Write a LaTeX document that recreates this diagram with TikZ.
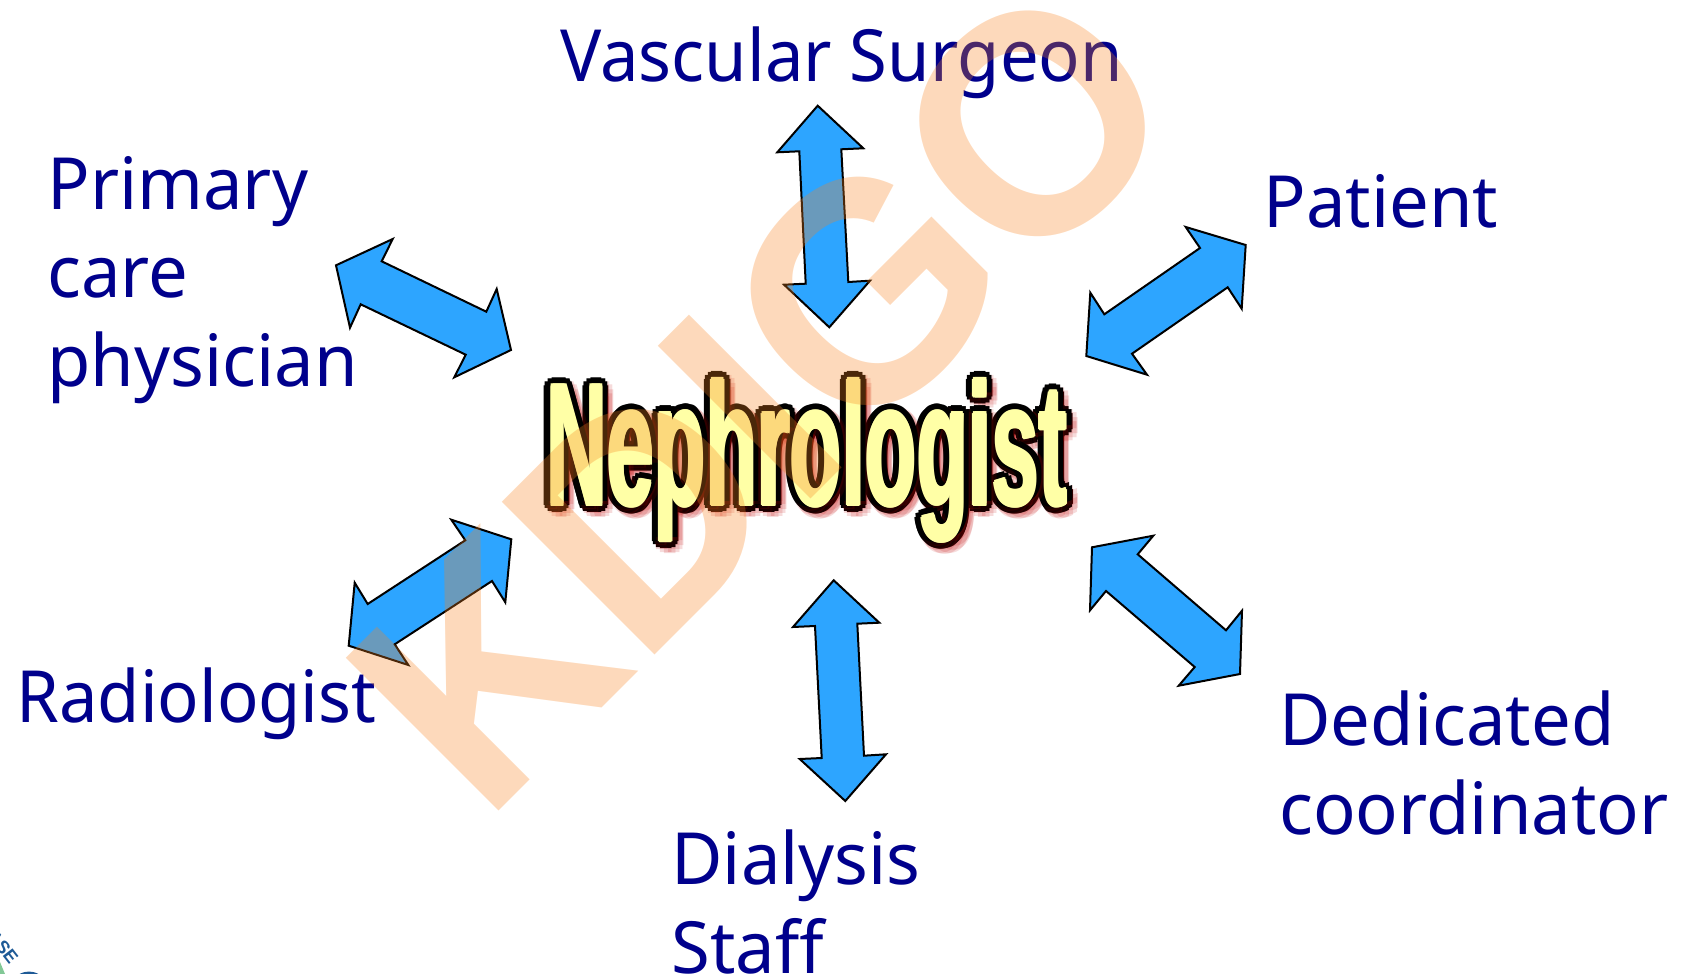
\documentclass[tikz,border=0pt]{standalone}
\usepackage{fontspec}
\setmainfont{Noto Sans}
\newfontfamily\labelfont{Noto Sans}[FakeStretch=0.98]
\newfontfamily\narrowfont{Noto Sans}[FakeStretch=0.955]
\newfontfamily\markfont{Liberation Sans Bold}[FakeStretch=0.975]
\newfontfamily\nephrofont{Liberation Sans Bold}[FakeStretch=0.485]
\newfontfamily\logofont{Liberation Sans Bold}
\definecolor{labelblue}{RGB}{0,0,140}
\definecolor{arrowblue}{RGB}{45,165,255}
\definecolor{markorange}{RGB}{248,130,30}
\definecolor{nephroyellow}{RGB}{255,255,166}
\definecolor{logoblue}{RGB}{30,90,150}
\definecolor{logogreen}{RGB}{130,200,150}
\tikzset{
    label text/.style={text=labelblue, anchor=base west, inner sep=0pt, align=left,
        font=\labelfont\fontsize{36}{44.25}\selectfont},
    narrow label/.style={label text, font=\narrowfont\fontsize{36}{44.25}\selectfont},
    both arrow/.style={draw=black, line width=1pt, fill=arrowblue, line join=miter},
    nephro text/.style={inner sep=0pt, anchor=base west, font=\nephrofont\fontsize{87}{87}\selectfont}
}
\begin{document}
\begin{tikzpicture}[x=0.5pt, y=-0.5pt]
    \useasboundingbox (0,0) rectangle (1681,974);

    \node[text=logoblue, font=\logofont\fontsize{9}{9}\selectfont, rotate=-52] (logo) at (3,947) {ASE};
    \fill[logogreen] (0,962) -- (5,974) -- (0,974) -- cycle;
    \fill[logoblue] (18,975) .. controls (24,970.5) and (34,970.5) .. (40,975) -- cycle;

    \node[narrow label] (vascular) at (560,82) {Vascular Surgeon};
    \node[label text] (primary) at (47,386) {Primary\\care\\physician};
    \node[label text] (patient) at (1263,227) {Patient};
    \node[narrow label] (radiologist) at (16,722) {Radiologist};
    \node[label text] (dedicated) at (1279,834) {Dedicated\\coordinator};
    \node[label text] (dialysis) at (671,973) {Dialysis\\Staff};

    \draw[both arrow] (336,265.3) -- (392.7,239) -- (381.7,261.3) -- (486.3,311.7) -- (496.7,289)
        -- (511,350) -- (454.3,377.3) -- (465.7,354.7) -- (360.7,304.3) -- (350,327.7) -- cycle;
    \draw[both arrow] (817.7,105.7) -- (863.3,148.3) -- (841.3,149.3) -- (848.3,282) -- (870,280.7)
        -- (829.3,327.3) -- (784,284.7) -- (805.7,283.7) -- (799.3,151.3) -- (777.3,152.3) -- cycle;
    \draw[both arrow] (1245.7,245) -- (1241.7,308.7) -- (1227.7,287.3) -- (1132,353.7) -- (1147,374.7)
        -- (1086.3,356) -- (1090.3,292.7) -- (1104.3,314.3) -- (1200,248) -- (1185.7,227) -- cycle;
    \draw[both arrow] (1092,547.3) -- (1153.3,535.7) -- (1137.7,554.3) -- (1226,630.3) -- (1242,610.7)
        -- (1240,674) -- (1178.7,685.7) -- (1194.7,667) -- (1106,591) -- (1090,610.3) -- cycle;
    \draw[both arrow] (833.7,580.3) -- (879.3,622.7) -- (857.3,623.7) -- (864,755.7) -- (886,754.3)
        -- (845.3,801) -- (799.7,759) -- (821.7,758) -- (815,626) -- (793,627) -- cycle;
    \draw[both arrow] (511.3,539.3) -- (505.3,602.3) -- (492,581) -- (394.7,644.3) -- (408.3,665)
        -- (348.7,645.7) -- (354.7,582.7) -- (367.7,604) -- (465.3,540.3) -- (451.3,519.7) -- cycle;

    \foreach \a in {0,30,...,330}
        {
            \node[nephro text, text=red!75!black, opacity=0.14] (glow\a) at ({546+4+8.5*cos(\a)},{505+4+8.5*sin(\a)}) {Nephrologist};
            \node[nephro text, text=black] (outline\a) at ({546+7.5*cos(\a)},{505+7.5*sin(\a)}) {Nephrologist};
        }
    \foreach \a in {0,60,...,300}
        {
            \node[nephro text, text=nephroyellow] (fill\a) at ({546+1.4*cos(\a)},{505+1.4*sin(\a)}) {Nephrologist};
        }
    \node[nephro text, text=nephroyellow] (nephro) at (546,505) {Nephrologist};

    \node[anchor=base west, inner sep=0pt, rotate=45, text=markorange, opacity=0.3,
        font=\markfont\fontsize{157}{157}\selectfont] (kdigo) at (484,826) {KDIGO};
\end{tikzpicture}
\end{document}
